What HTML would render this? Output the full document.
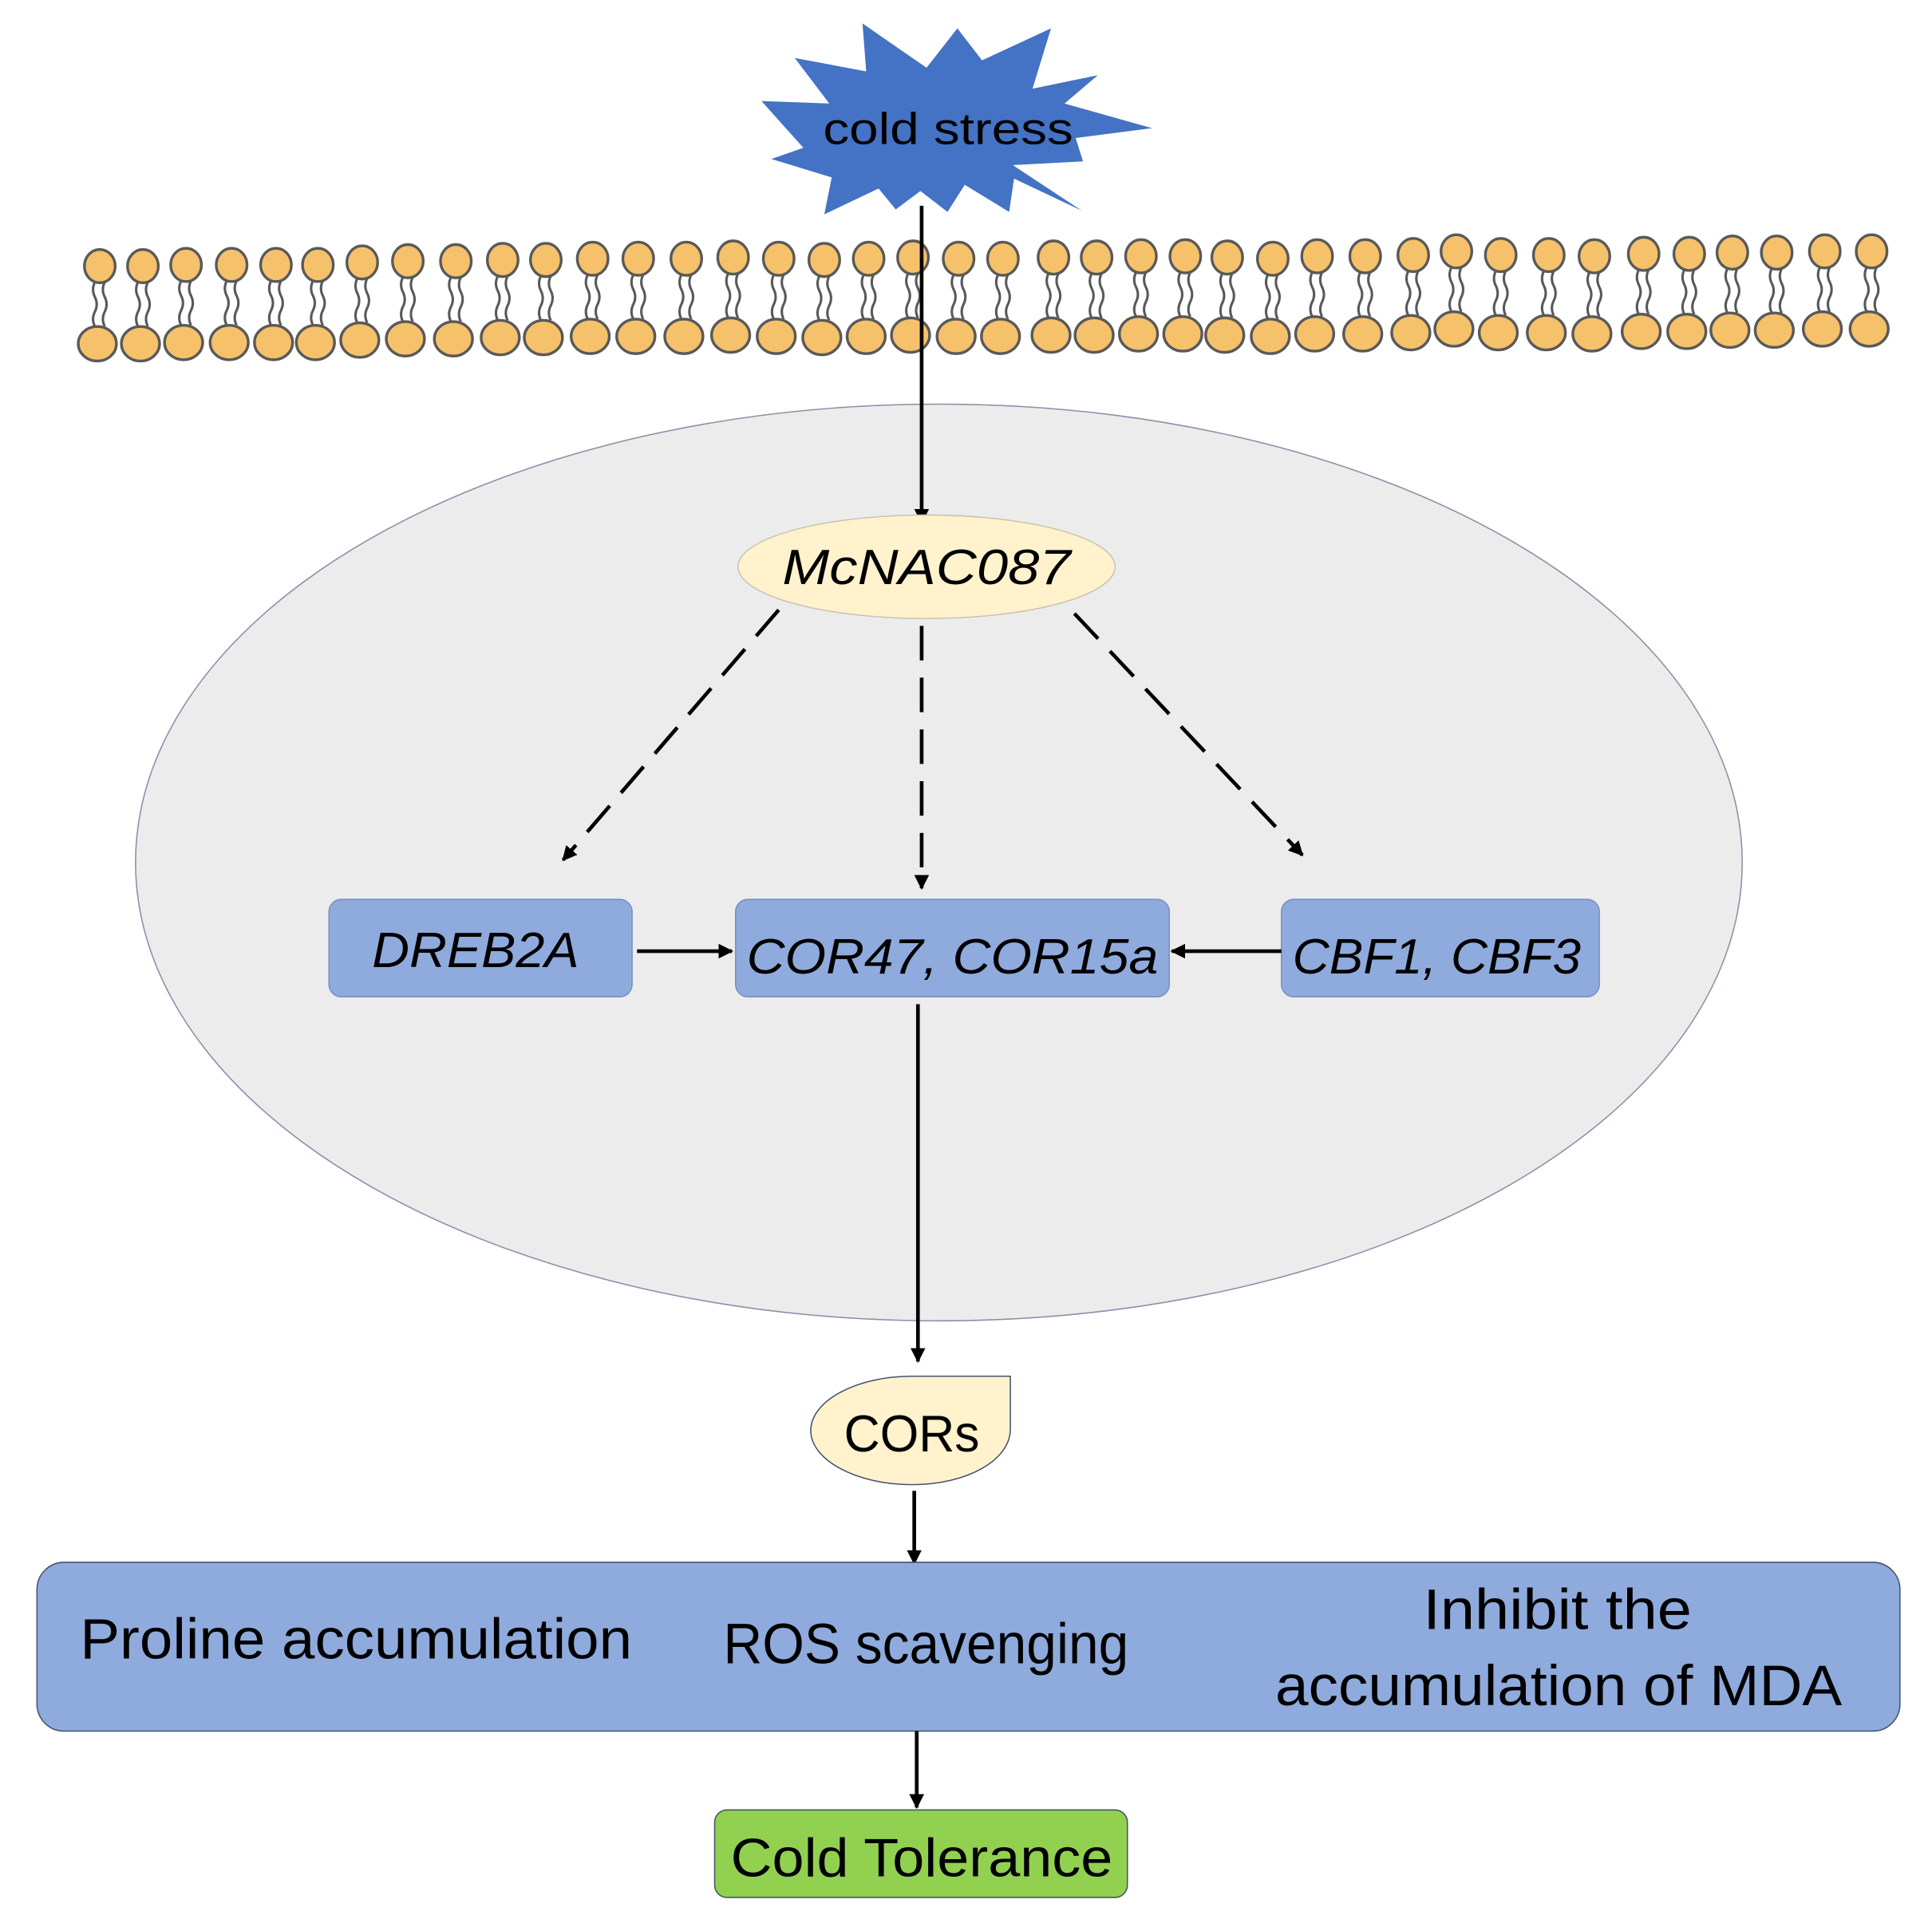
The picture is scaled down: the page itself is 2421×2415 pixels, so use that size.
<!DOCTYPE html>
<html><head><meta charset="utf-8"><style>
html,body{margin:0;padding:0;background:#fff;}
svg{display:block;}
text{font-family:"Liberation Sans",sans-serif;fill:#000;}
</style></head><body>
<svg width="2421" height="2415" viewBox="0 0 1568 1564" preserveAspectRatio="none" xmlns="http://www.w3.org/2000/svg">
<defs>
<marker id="ah" markerWidth="4" markerHeight="4" refX="3.6" refY="2" orient="auto" markerUnits="strokeWidth">
<path d="M0,0 L4,2 L0,4 Z" fill="#000"/>
</marker>
<g id="lip">
<path d="M-4,13 q-3,6 0,12 q3,6 0,12 q-3,6 0,12 M4,13 q-3,6 0,12 q3,6 0,12 q-3,6 0,12" fill="none" stroke="#595959" stroke-width="2"/>
<ellipse cx="0" cy="0" rx="12.5" ry="13.5" fill="#f6c16b" stroke="#595959" stroke-width="2.2"/>
<ellipse cx="-2" cy="63" rx="15.5" ry="14" fill="#f6c16b" stroke="#595959" stroke-width="2.2"/>
</g>
</defs>

<polygon points="700,19 752,55 777,23 797,49 853,23 838,72 891,61 864,84 935,104 873,112 879,131 822,134 878,171 823,145 819,172 783,150 769,172 747,155 727,170 713,153 669,174 675,144 626,129 652,120 618,82 673,84 645,47 703,58" fill="#4472c4"/>
<text x="668" y="117" font-size="36" textLength="203" lengthAdjust="spacingAndGlyphs">cold stress</text>

<use href="#lip" x="81" y="216"/><use href="#lip" x="116" y="216"/><use href="#lip" x="151" y="215"/><use href="#lip" x="188" y="215"/><use href="#lip" x="224" y="215"/><use href="#lip" x="258" y="215"/><use href="#lip" x="294" y="213"/><use href="#lip" x="331" y="212"/><use href="#lip" x="370" y="212"/><use href="#lip" x="408" y="211"/><use href="#lip" x="443" y="211"/><use href="#lip" x="481" y="210"/><use href="#lip" x="518" y="210"/><use href="#lip" x="557" y="210"/><use href="#lip" x="595" y="209"/><use href="#lip" x="632" y="210"/><use href="#lip" x="669" y="211"/><use href="#lip" x="705" y="210"/><use href="#lip" x="741" y="209"/><use href="#lip" x="778" y="210"/><use href="#lip" x="814" y="210"/><use href="#lip" x="855" y="209"/><use href="#lip" x="890" y="209"/><use href="#lip" x="926" y="208"/><use href="#lip" x="962" y="208"/><use href="#lip" x="996" y="209"/><use href="#lip" x="1033" y="210"/><use href="#lip" x="1069" y="208"/><use href="#lip" x="1108" y="208"/><use href="#lip" x="1147" y="207"/><use href="#lip" x="1182" y="204"/><use href="#lip" x="1218" y="207"/><use href="#lip" x="1257" y="207"/><use href="#lip" x="1294" y="208"/><use href="#lip" x="1334" y="206"/><use href="#lip" x="1371" y="206"/><use href="#lip" x="1406" y="205"/><use href="#lip" x="1442" y="205"/><use href="#lip" x="1481" y="204"/><use href="#lip" x="1519" y="204"/>

<ellipse cx="762" cy="700" rx="652" ry="372" fill="#ececec" stroke="#8a8fa8" stroke-width="1"/>

<line x1="748" y1="167" x2="748" y2="424" stroke="#000" stroke-width="3" marker-end="url(#ah)"/>

<ellipse cx="752" cy="460" rx="153" ry="42" fill="#fff2cc" stroke="#c9c3b0" stroke-width="1"/>
<text x="752" y="474" font-size="40" font-style="italic" text-anchor="middle" textLength="234" lengthAdjust="spacingAndGlyphs">McNAC087</text>

<g stroke="#000" stroke-width="3" stroke-dasharray="28,14" fill="none">
<line x1="632" y1="495" x2="457" y2="698" marker-end="url(#ah)"/>
<line x1="748" y1="508" x2="748" y2="721" marker-end="url(#ah)"/>
<line x1="872" y1="498" x2="1057" y2="694" marker-end="url(#ah)"/>
</g>

<rect x="267" y="730" width="246" height="79" rx="10" fill="#8faadc" stroke="#7890c0" stroke-width="1"/>
<text x="386" y="785" font-size="40" font-style="italic" text-anchor="middle" textLength="168" lengthAdjust="spacingAndGlyphs">DREB2A</text>
<rect x="597" y="730" width="352" height="79" rx="10" fill="#8faadc" stroke="#7890c0" stroke-width="1"/>
<text x="773" y="790" font-size="40" font-style="italic" text-anchor="middle" textLength="334" lengthAdjust="spacingAndGlyphs">COR47, COR15a</text>
<rect x="1040" y="730" width="258" height="79" rx="10" fill="#8faadc" stroke="#7890c0" stroke-width="1"/>
<text x="1166" y="790" font-size="40" font-style="italic" text-anchor="middle" textLength="234" lengthAdjust="spacingAndGlyphs">CBF1, CBF3</text>

<line x1="517" y1="772" x2="594" y2="772" stroke="#000" stroke-width="3" marker-end="url(#ah)"/>
<line x1="1040" y1="772" x2="951" y2="772" stroke="#000" stroke-width="3" marker-end="url(#ah)"/>
<line x1="745" y1="815" x2="745" y2="1105" stroke="#000" stroke-width="3" marker-end="url(#ah)"/>

<path d="M740,1117 L820,1117 L820,1160 C820,1185 785,1205 740,1205 C695,1205 658,1185 658,1161 C658,1137 695,1117 740,1117 Z" fill="#fff2cc" stroke="#44546a" stroke-width="1"/>
<text x="740" y="1178" font-size="42" text-anchor="middle" textLength="110" lengthAdjust="spacingAndGlyphs">CORs</text>

<line x1="742" y1="1210" x2="742" y2="1269" stroke="#000" stroke-width="3" marker-end="url(#ah)"/>

<rect x="30" y="1268" width="1512" height="137" rx="22" fill="#8faadc" stroke="#44546a" stroke-width="1"/>
<text x="65" y="1346" font-size="46" textLength="448" lengthAdjust="spacingAndGlyphs">Proline accumulation</text>
<text x="587" y="1350" font-size="46" textLength="329" lengthAdjust="spacingAndGlyphs">ROS scavenging</text>
<text x="1264" y="1322" font-size="46" text-anchor="middle" textLength="218" lengthAdjust="spacingAndGlyphs">Inhibit the</text>
<text x="1265" y="1384" font-size="46" text-anchor="middle" textLength="460" lengthAdjust="spacingAndGlyphs">accumulation of MDA</text>

<line x1="744" y1="1405" x2="744" y2="1467" stroke="#000" stroke-width="3" marker-end="url(#ah)"/>

<rect x="580" y="1469" width="335" height="71" rx="10" fill="#92d050" stroke="#44546a" stroke-width="1"/>
<text x="748" y="1523" font-size="44" text-anchor="middle" textLength="310" lengthAdjust="spacingAndGlyphs">Cold Tolerance</text>
</svg>
</body></html>
